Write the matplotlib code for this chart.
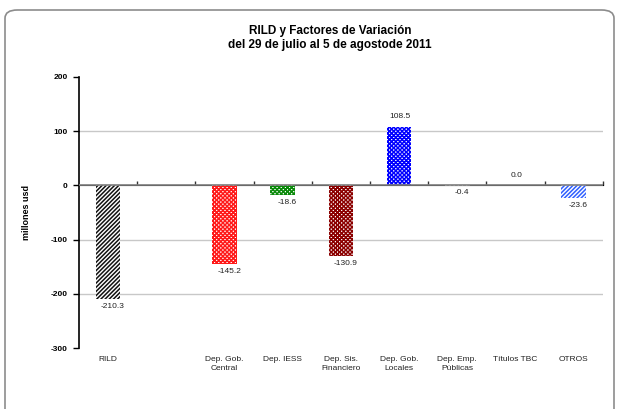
import matplotlib.pyplot as plt
from matplotlib.patches import FancyBboxPatch

plt.rcParams['font.family'] = ['Liberation Sans', 'DejaVu Sans']
plt.rcParams['hatch.linewidth'] = 1.1

# data
categories = ['RILD', '', 'Dep. Gob.\nCentral', 'Dep. IESS', 'Dep. Sis.\nFinanciero',
              'Dep. Gob.\nLocales', 'Dep. Emp.\nPúblicas', 'Títulos TBC', 'OTROS']
values = [-210.3, None, -145.2, -18.6, -130.9, 108.5, -0.4, 0.0, -23.6]
labels = ['-210.3', '', '-145.2', '-18.6', '-130.9', '108.5', '-0.4', '0.0', '-23.6']
yticks = [-300, -200, -100, 0, 100, 200]

hatch_colors = ['#111111', None, '#ff1a1a', '#0a8a0a', '#8b0000', '#0000ff', '#888888', '#888888', '#3060ff']
hatches = ['////////', None, 'xxxxxxxx', 'xxxxxxxx', 'xxxxxxxx', 'xxxxxxxx', 'xxxxxxxx', 'xxxxxxxx', '////////']

fig = plt.figure(figsize=(6.17, 4.09), dpi=100)
ax = fig.add_axes([0.128, 0.149, 0.849, 0.663])

# rounded frame around the chart
frame = FancyBboxPatch((5 / 617, -0.05), 609 / 617, 1.0 - 10 / 409 + 0.05,
                       boxstyle='round,pad=0,rounding_size=0.02', transform=fig.transFigure,
                       facecolor='none', edgecolor='#8c8c8c', linewidth=1.2, clip_on=False)
fig.patches.append(frame)

x = list(range(len(categories)))
for i, v in enumerate(values):
    if v is None:
        continue
    ax.bar(i, v, width=0.42, facecolor='white', edgecolor=hatch_colors[i],
           hatch=hatches[i], linewidth=0, zorder=3)
    if v < 0:
        ax.text(i + 0.08, v - 7, labels[i], ha='center', va='top', fontsize=6, color='#222222')
    else:
        ax.text(i + 0.02, v + 12, labels[i], ha='center', va='bottom', fontsize=6, color='#222222')

ax.set_xlim(-0.5, len(categories) - 0.5)
ax.set_ylim(-300, 200)
ax.set_yticks(yticks)
ax.set_yticklabels([str(t) for t in yticks], fontsize=6, fontweight='bold')
for t in [-200, -100, 100]:
    ax.axhline(t, color='#c8c8c8', linewidth=1, zorder=1)
ax.axhline(0, color='#808080', linewidth=1.2, zorder=4)

ax.set_xticks(x)
ax.set_xticklabels(categories, fontsize=6, color='#222222', linespacing=1.3)
ax.tick_params(axis='x', length=0, pad=6)
ax.tick_params(axis='y', length=4, width=1, direction='out', pad=4)

# small ticks along the zero line at category boundaries
sec = ax.secondary_xaxis(0.6)
sec.set_xticks([i + 0.5 for i in range(len(categories))])
sec.set_xticklabels([])
sec.tick_params(length=3, width=1, direction='out', color='#333333')
sec.spines['bottom'].set_visible(False)

for s in ['top', 'right', 'bottom']:
    ax.spines[s].set_visible(False)
ax.spines['left'].set_linewidth(1.2)

ax.set_ylabel('millones usd', fontsize=6.5, fontweight='bold', labelpad=14)
fig.text(0.535, 0.907, 'RILD y Factores de Variación\ndel 29 de julio al 5 de agostode 2011',
         ha='center', va='center', fontsize=8.5, fontweight='bold', linespacing=1.15)

fig.savefig('out.png', dpi=100)
